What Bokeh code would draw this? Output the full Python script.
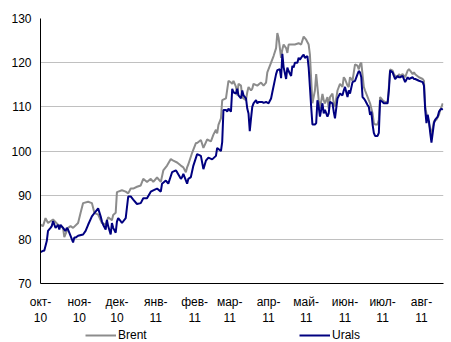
from bokeh.plotting import figure
from bokeh.layouts import column
from bokeh.models import FixedTicker, Legend, LegendItem, Range1d
from bokeh.embed import file_html
from bokeh.resources import INLINE

# x values: days since 2010-10-01
month_days = [0, 31, 61, 92, 123, 151, 182, 212, 243, 273, 304]
month_labels = ["окт-\n10", "ноя-\n10", "дек-\n10", "янв-\n11", "фев-\n11", "мар-\n11",
                "апр-\n11", "май-\n11", "июн-\n11", "июл-\n11", "авг-\n11"]
y_ticks = [70, 80, 90, 100, 110, 120, 130]
series_names = ["Brent", "Urals"]

brent_day = [0, 2, 4, 6, 10, 14, 18, 19, 22, 24, 26, 30, 32, 34, 38, 41, 43, 46, 49, 52,
             54, 57, 58, 60, 61, 62, 65, 68, 70, 72, 74, 77, 80, 82, 85, 88, 90, 93, 96, 98,
             101, 104, 106, 109, 112, 114, 116, 117, 118, 121, 124, 125, 128, 130, 133, 136,
             138, 140, 141, 142, 144, 145, 148, 150, 152, 153, 154, 156, 157, 158, 160, 161,
             162, 164, 165, 166, 168, 169, 170, 173, 176, 178, 180, 181, 184, 186, 188, 189,
             190, 192, 193, 194, 196, 197, 198, 201, 203, 206, 208, 210, 212, 214, 215, 216,
             217, 219, 220, 221, 222, 223, 225, 226, 227, 229, 230, 231, 233, 234, 235, 237,
             239, 241, 242, 243, 245, 246, 247, 249, 251, 253, 254, 255, 256, 258, 259, 262,
             263, 265, 266, 267, 269, 270, 271, 273, 275, 277, 278, 279, 281, 282, 283, 285,
             286, 287, 289, 291, 293, 294, 295, 297, 298, 299, 302, 305, 306, 307, 308, 309,
             310, 312, 313, 314, 316, 318, 319, 320, 321]
brent = [83.3, 83.0, 84.8, 83.7, 84.5, 83.3, 82.6, 80.5, 82.6, 83.0, 82.6, 83.7, 86.0, 88.2,
         88.5, 88.2, 86.0, 85.6, 83.7, 83.3, 85.0, 84.3, 85.5, 86.0, 90.7, 90.8, 91.1, 90.8,
         90.4, 91.5, 91.5, 91.9, 92.2, 93.7, 93.0, 93.7, 93.0, 94.0, 93.0, 95.6, 96.7, 98.2,
         97.8, 97.4, 96.7, 96.3, 95.2, 96.3, 97.0, 99.6, 101.8, 101.8, 102.5, 100.7, 102.6,
         102.2, 103.7, 104.8, 104.0, 105.9, 107.4, 111.5, 111.9, 115.9, 115.5, 115.2, 115.9,
         114.5, 112.6, 115.2, 114.8, 112.2, 111.9, 111.5, 113.3, 114.5, 113.7, 114.1, 115.2,
         114.8, 115.5, 114.8, 115.5, 117.8, 120.0, 121.5, 123.3, 126.7, 125.6, 121.1, 123.0,
         124.1, 123.3, 122.2, 124.1, 124.1, 124.1, 124.4, 124.1, 125.9, 125.2, 124.1, 121.8,
         116.3, 110.8, 113.7, 117.4, 114.5, 111.5, 109.6, 112.9, 111.5, 110.8, 112.2, 109.6,
         112.2, 113.0, 110.8, 110.0, 113.7, 115.2, 114.5, 116.7, 116.3, 114.8, 114.5, 116.7,
         115.9, 119.6, 119.3, 118.5, 119.6, 120.0, 114.5, 113.7, 111.5, 110.8, 108.5, 106.3,
         106.0, 106.0, 107.1, 112.2, 111.5, 111.1, 111.1, 114.5, 118.5, 118.2, 117.4, 117.0,
         116.7, 117.4, 117.0, 117.4, 116.7, 118.2, 118.5, 118.2, 117.4, 117.8, 117.4, 116.7,
         116.3, 115.9, 110.0, 108.5, 107.1, 106.3, 103.7, 105.2, 106.7, 107.1, 108.2, 109.3,
         110.0, 110.8]

urals_day = [0, 2, 3, 5, 6, 8, 9, 10, 12, 14, 15, 16, 18, 19, 20, 21, 22, 24, 26, 27, 28,
             30, 34, 36, 38, 41, 44, 46, 48, 49, 50, 52, 53, 54, 56, 57, 58, 60, 61, 62, 64,
             65, 68, 70, 72, 74, 77, 80, 82, 85, 88, 90, 93, 96, 97, 100, 102, 105, 108, 109,
             112, 113, 114, 117, 118, 120, 122, 125, 128, 130, 132, 134, 137, 140, 141, 144,
             145, 146, 148, 149, 150, 152, 153, 154, 156, 157, 158, 160, 161, 162, 164, 165,
             166, 167, 168, 169, 170, 172, 173, 174, 177, 178, 180, 182, 184, 185, 188, 189,
             191, 192, 193, 194, 196, 197, 198, 200, 201, 202, 203, 205, 206, 207, 209, 210,
             211, 213, 214, 215, 216, 217, 219, 220, 221, 222, 223, 225, 226, 227, 229, 230,
             231, 233, 234, 235, 237, 239, 241, 242, 243, 245, 246, 247, 249, 251, 253, 254,
             255, 256, 257, 258, 259, 261, 262, 263, 264, 265, 266, 267, 269, 270, 271, 273,
             274, 277, 278, 279, 281, 282, 283, 285, 286, 287, 289, 290, 291, 293, 294, 297,
             298, 299, 302, 305, 306, 307, 308, 309, 310, 311, 312, 313, 314, 315, 317, 318,
             319, 320, 321]
urals = [77.1, 77.4, 77.4, 79.6, 81.9, 82.6, 83.0, 84.1, 82.6, 83.3, 82.2, 83.3, 82.6, 82.2,
         81.9, 82.6, 82.2, 80.8, 79.3, 80.4, 80.4, 80.8, 81.1, 81.9, 83.3, 85.2, 86.3, 87.0,
         85.2, 84.1, 83.3, 82.2, 84.4, 83.0, 81.1, 83.7, 82.6, 81.5, 84.0, 84.8, 84.1, 83.7,
         84.8, 89.7, 89.7, 89.0, 88.0, 88.2, 89.3, 89.3, 90.8, 91.1, 91.5, 90.8, 92.6, 93.3,
         92.6, 95.2, 95.6, 95.2, 93.7, 94.1, 94.8, 92.6, 93.7, 94.1, 96.7, 99.3, 98.9, 95.9,
         97.8, 98.5, 98.1, 98.9, 100.7, 100.0, 102.0, 109.3, 109.3, 108.9, 109.6, 108.9, 114.1,
         113.3, 113.0, 114.1, 112.6, 111.9, 113.7, 112.6, 111.9, 109.6, 108.5, 104.5, 107.4,
         110.0, 110.8, 111.5, 110.8, 111.1, 111.1, 110.9, 111.1, 110.8, 111.9, 113.3, 117.4,
         118.3, 118.5, 116.5, 122.0, 119.0, 116.3, 118.9, 118.1, 117.0, 119.3, 118.9, 120.0,
         120.0, 121.1, 120.7, 121.5, 121.8, 121.1, 121.5, 118.9, 114.5, 110.0, 106.0, 106.0,
         106.3, 111.5, 110.0, 107.8, 110.8, 108.5, 109.3, 107.8, 108.5, 111.1, 110.8, 108.9,
         107.4, 111.9, 113.0, 112.6, 113.7, 114.5, 112.2, 113.7, 113.0, 115.6, 115.9, 117.4,
         118.1, 117.8, 116.7, 112.2, 111.9, 111.5, 110.4, 110.0, 108.2, 108.9, 106.0, 104.1,
         103.4, 103.4, 104.1, 111.5, 111.1, 110.8, 110.8, 113.7, 118.2, 117.8, 117.0, 116.3,
         117.0, 116.7, 116.7, 117.0, 116.3, 115.6, 116.7, 116.3, 116.7, 116.3, 116.3, 115.9,
         115.6, 114.8, 109.3, 106.3, 108.2, 106.7, 104.1, 101.9, 104.1, 106.3, 107.1, 107.8,
         108.9, 109.3, 109.6, 109.3]

FONT = "Liberation Sans"
COLORS = ["#8c8c8c", "#000080"]

p = figure(width=446, height=328, output_backend="svg", toolbar_location=None,
           x_range=Range1d(0, 321.6), y_range=Range1d(70, 130),
           min_border_left=40, min_border_right=3, min_border_top=18, min_border_bottom=39)
p.outline_line_color = None
p.background_fill_color = "white"
p.border_fill_color = "white"

p.xgrid.grid_line_color = None
p.ygrid.grid_line_color = "#c0c0c0"
p.ygrid.grid_line_width = 1

p.yaxis.ticker = FixedTicker(ticks=y_ticks)
p.xaxis.ticker = FixedTicker(ticks=month_days)
p.xaxis.major_label_overrides = {d: lab for d, lab in zip(month_days, month_labels)}

for ax in (p.xaxis, p.yaxis):
    ax.axis_line_color = "black"
    ax.axis_line_width = 1
    ax.major_tick_line_color = None
    ax.minor_tick_line_color = None
    ax.major_tick_in = 0
    ax.major_tick_out = 0
    ax.minor_tick_out = 0
    ax.major_label_text_font = FONT
    ax.major_label_text_font_size = "12px"
    ax.major_label_text_color = "black"
p.yaxis.major_label_standoff = 9
p.xaxis.major_label_standoff = 11

p.line(brent_day, brent, line_color=COLORS[0], line_width=2)
p.line(urals_day, urals, line_color=COLORS[1], line_width=2)

# legend strip below the chart (its frame is aligned with the chart's frame)
lf = figure(width=446, height=14, output_backend="svg", toolbar_location=None,
            x_axis_type=None, y_axis_type=None, x_range=Range1d(0, 1), y_range=Range1d(0, 1),
            min_border_left=0, min_border_right=0, min_border_top=0, min_border_bottom=0)
lf.outline_line_color = None
lf.grid.grid_line_color = None
for name, color, x in zip(series_names, COLORS, (45, 259)):
    # legend-only proxy renderer (its points lie outside the visible range)
    r = lf.line([5, 6], [5, 6], line_color=color, line_width=2)
    lg = Legend(items=[LegendItem(label=name, renderers=[r])], location=(x, 0),
                orientation="horizontal", padding=0, margin=0, spacing=0,
                glyph_width=31, glyph_height=14, label_standoff=2, label_height=14,
                label_text_font=FONT, label_text_font_size="12px",
                label_text_color="black", border_line_color=None,
                background_fill_alpha=0)
    lf.add_layout(lg, "center")

layout = column(p, lf, spacing=0)
open("out.html", "w").write(file_html(layout, INLINE))
